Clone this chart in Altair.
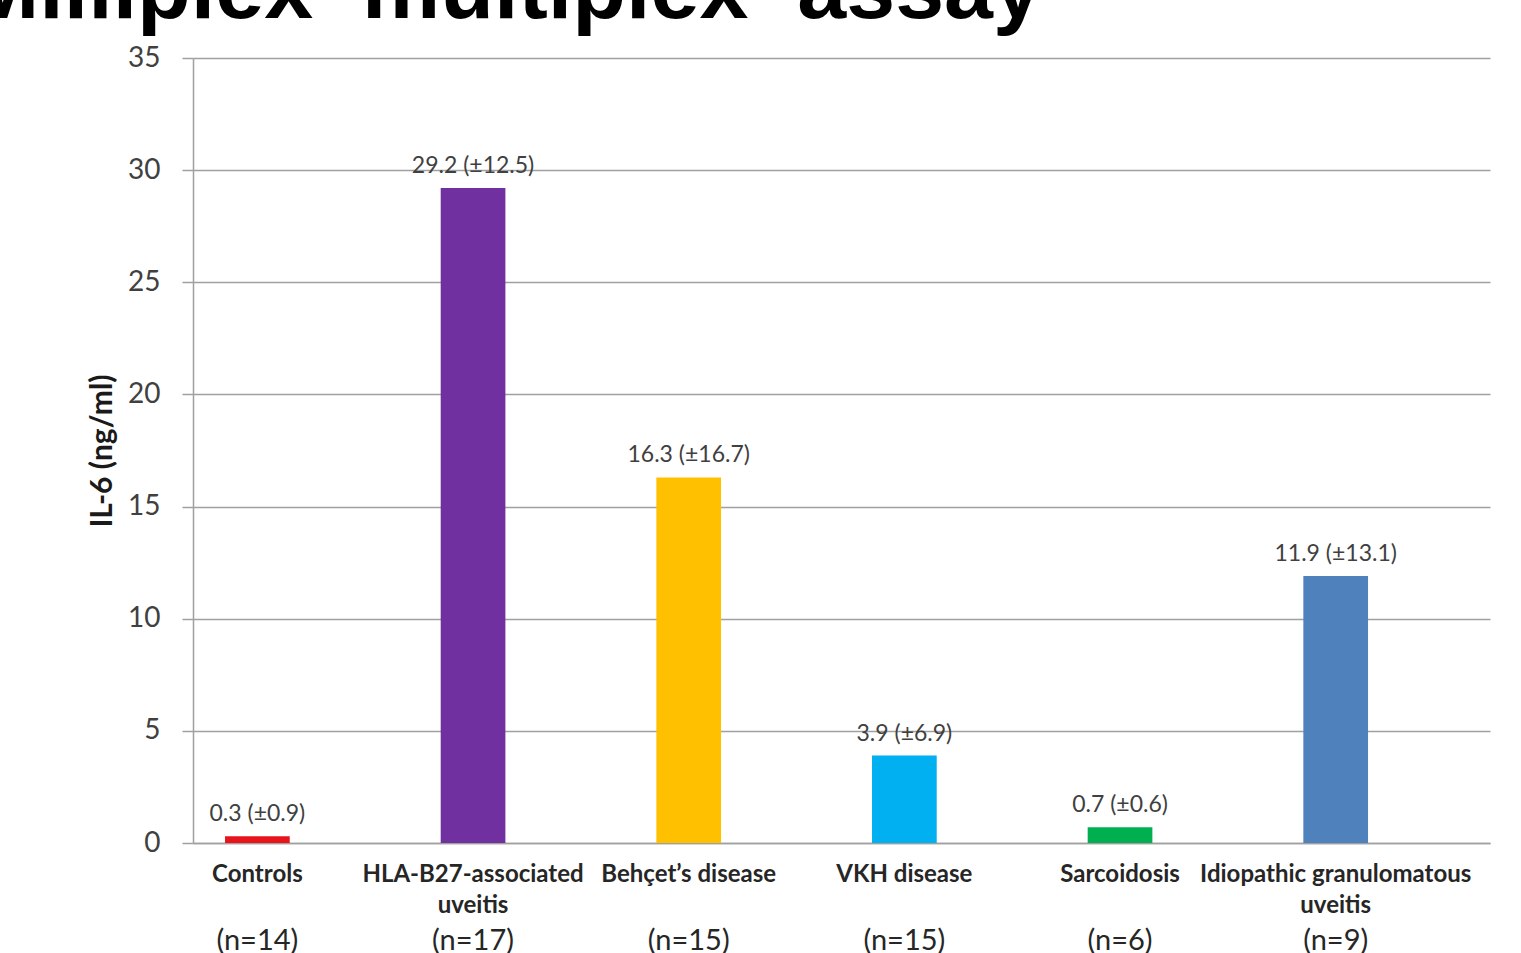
import altair as alt
import pandas as pd

# ---- data ----
label_line1 = ["Controls", "HLA-B27-associated", "Behçet’s disease", "VKH disease",
               "Sarcoidosis", "Idiopathic granulomatous"]
label_line2 = ["", "uveitis", "", "", "", "uveitis"]
n_labels = ["(n=14)", "(n=17)", "(n=15)", "(n=15)", "(n=6)", "(n=9)"]
means = [0.3, 29.2, 16.3, 3.9, 0.7, 11.9]
sds = [0.9, 12.5, 16.7, 6.9, 0.6, 13.1]
colors = ["#E8141B", "#7030A0", "#FFC000", "#00B0F0", "#00B050", "#4F81BD"]
y_ticks = [0, 5, 10, 15, 20, 25, 30, 35]
title_text = "Milliplex\u00a0\u00a0multiplex\u00a0\u00a0assay"
y_title = "IL-6 (ng/ml)"

keys = [f"{a}|{b}|{n}" for a, b, n in zip(label_line1, label_line2, n_labels)]
df = pd.DataFrame({
    "key": keys,
    "mean": means,
    "label": [f"{m} (\u00b1{s})" for m, s in zip(means, sds)],
})

GRID = "#a0a0a0"
FONT = "Lato"

x_scale = alt.Scale(paddingInner=0.7, paddingOuter=0.357, align=0.208)

y_enc = alt.Y(
    "mean:Q",
    scale=alt.Scale(domain=[0, 35], nice=False),
    axis=alt.Axis(
        values=y_ticks, grid=True, gridColor=GRID, gridWidth=1.5,
        domainColor=GRID, domainWidth=1.5, tickColor=GRID, tickWidth=1.5,
        tickSize=11, labelFont=FONT, labelFontSize=28, labelColor="#404040",
        labelPadding=22, title=y_title, titleFont=FONT, titleFontSize=30,
        titleFontWeight="bold", titleColor="#1a1a1a", titlePadding=10,
    ),
)

bars = alt.Chart(df).mark_bar().encode(
    x=alt.X(
        "key:N", sort=keys, scale=x_scale, title=None,
        axis=alt.Axis(
            orient="bottom", labelExpr="slice(split(datum.value, '|'), 0, 2)",
            labelAngle=0, labelFont=FONT, labelFontSize=24, labelFontWeight="bold",
            labelColor="#262626", labelPadding=19, labelBaseline="top",
            labelLineHeight=31, labelLimit=400, labelOverlap=False,
            ticks=False, tickSize=0, grid=False, domain=True,
            domainColor=GRID, domainWidth=1.5,
        ),
    ),
    y=y_enc,
    color=alt.Color("key:N", sort=keys, scale=alt.Scale(domain=keys, range=colors), legend=None),
)

values = alt.Chart(df).mark_text(
    baseline="bottom", dy=-10, font=FONT, fontSize=23, color="#404040"
).encode(
    x=alt.X(
        "key:N", sort=keys, scale=x_scale, title=None,
        axis=alt.Axis(
            orient="bottom", labelExpr="split(datum.value, '|')[2]",
            labelAngle=0, labelFont=FONT, labelFontSize=29, labelColor="#262626",
            labelPadding=83, labelBaseline="top", labelLimit=400, labelOverlap=False,
            ticks=False, tickSize=0, grid=False, domain=False,
        ),
    ),
    y=y_enc,
    text="label:N",
)

chart = alt.layer(bars, values).resolve_axis(x="independent").properties(
    width=1297,
    height=785,
    padding={"left": 193, "top": 58, "right": 31, "bottom": 110},
    autosize=alt.AutoSizeParams(type="none"),
    title=alt.TitleParams(
        text=title_text, anchor="end", frame="group", align="right",
        baseline="alphabetic", font="Liberation Sans", fontSize=88,
        fontWeight="bold", color="black", dx=-448, dy=62, offset=0,
    ),
).configure(background="white").configure_view(strokeWidth=0)

chart.save("out.html", embed_options={"renderer": "svg", "actions": False})
